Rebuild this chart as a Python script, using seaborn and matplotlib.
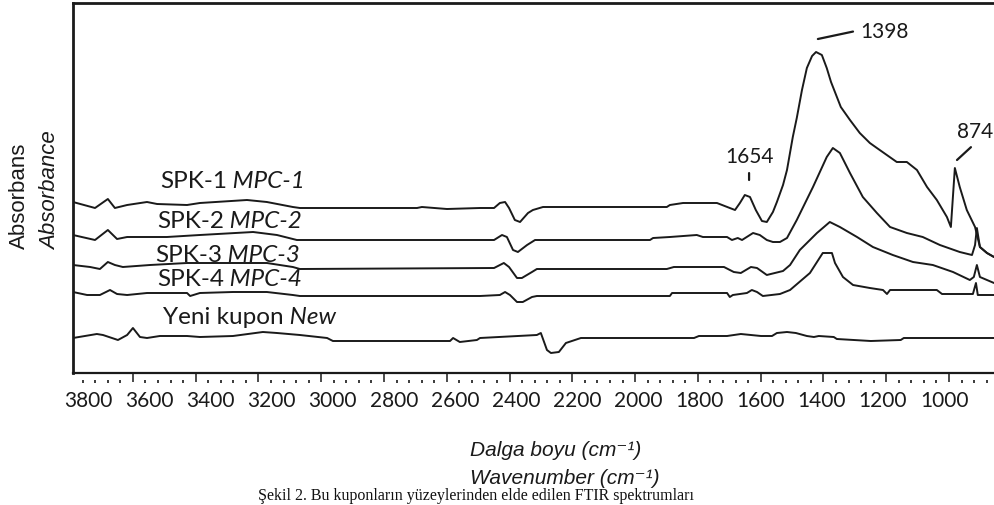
import numpy as np
import matplotlib
matplotlib.use("Agg")
import matplotlib.pyplot as plt
import seaborn as sns

# ---------------- data (wavenumber cm-1, absorbance a.u.) ----------------
spk1_wn = [3849, 3777, 3735, 3712, 3672, 3607, 3574, 3476, 3434, 3280, 3215, 3130, 3107,
           2724, 2708, 2626, 2518, 2472, 2453, 2436, 2423, 2404, 2387, 2361, 2345, 2312,
           1907, 1897, 1854, 1743, 1701, 1684, 1668, 1652, 1635, 1616, 1596, 1580, 1560,
           1547, 1527, 1514, 1495, 1482, 1465, 1449, 1432, 1419, 1400, 1384, 1370, 1338,
           1308, 1276, 1243, 1220, 1155, 1122, 1089, 1056, 1024, 991, 978, 965, 949, 926,
           899, 883, 860, 837]
spk1_ab = [1.71, 1.65, 1.74, 1.65, 1.68, 1.71, 1.69, 1.68, 1.70, 1.73, 1.71, 1.66, 1.65,
           1.65, 1.66, 1.64, 1.65, 1.65, 1.70, 1.71, 1.65, 1.53, 1.51, 1.60, 1.63, 1.66,
           1.66, 1.68, 1.70, 1.70, 1.65, 1.63, 1.70, 1.78, 1.76, 1.63, 1.52, 1.51, 1.61,
           1.71, 1.88, 2.03, 2.36, 2.55, 2.83, 3.05, 3.17, 3.21, 3.18, 3.05, 2.91, 2.66,
           2.53, 2.40, 2.30, 2.25, 2.11, 2.11, 2.03, 1.86, 1.73, 1.56, 1.46, 2.05, 1.86, 1.63,
           1.46, 1.26, 1.20, 1.16]

spk2_wn = [3849, 3777, 3735, 3705, 3672, 3542, 3434, 3260, 3182, 3117, 2518, 2472, 2446,
           2430, 2410, 2394, 2364, 2338, 1962, 1952, 1897, 1809, 1789, 1710, 1694, 1675,
           1661, 1625, 1603, 1580, 1560, 1537, 1514, 1482, 1429, 1384, 1364, 1341, 1308,
           1266, 1220, 1177, 1122, 1070, 1014, 949, 909, 899, 893, 883, 860, 837]
spk2_ab = [1.38, 1.33, 1.43, 1.34, 1.36, 1.36, 1.38, 1.41, 1.38, 1.33, 1.33, 1.33, 1.38,
           1.36, 1.23, 1.21, 1.28, 1.33, 1.33, 1.35, 1.36, 1.38, 1.36, 1.36, 1.33, 1.35,
           1.33, 1.40, 1.38, 1.33, 1.31, 1.31, 1.35, 1.53, 1.86, 2.16, 2.25, 2.20, 2.00,
           1.76, 1.60, 1.46, 1.40, 1.36, 1.28, 1.21, 1.18, 1.28, 1.45, 1.26, 1.20, 1.16]

spk3_wn = [3849, 3793, 3761, 3735, 3712, 3686, 3597, 3476, 3326, 3215, 3130, 3107, 2472,
           2440, 2423, 2397, 2381, 2348, 2332, 1907, 1884, 1720, 1688, 1665, 1632, 1612,
           1580, 1567, 1527, 1504, 1472, 1416, 1374, 1341, 1285, 1233, 1168, 1102, 1037,
           971, 916, 903, 893, 883, 837]
spk3_ab = [1.08, 1.06, 1.04, 1.11, 1.08, 1.06, 1.08, 1.10, 1.10, 1.10, 1.06, 1.04, 1.05,
           1.10, 1.06, 0.95, 0.95, 1.01, 1.04, 1.04, 1.06, 1.06, 1.01, 1.00, 1.06, 1.05,
           0.98, 0.99, 1.02, 1.08, 1.23, 1.40, 1.51, 1.46, 1.36, 1.26, 1.18, 1.11, 1.08,
           1.01, 0.93, 0.96, 1.08, 0.96, 0.90]

spk4_wn = [3849, 3803, 3761, 3728, 3705, 3672, 3607, 3476, 3466, 3434, 3326, 3215, 3130,
           3107, 2518, 2453, 2436, 2420, 2397, 2378, 2348, 2332, 1897, 1890, 1710, 1701,
           1691, 1645, 1629, 1612, 1593, 1537, 1504, 1439, 1397, 1367, 1357, 1331, 1298,
           1243, 1200, 1187, 1177, 1024, 1007, 906, 896, 890, 837]
spk4_ab = [0.81, 0.78, 0.78, 0.83, 0.79, 0.78, 0.80, 0.80, 0.77, 0.80, 0.81, 0.81, 0.78,
           0.77, 0.77, 0.78, 0.81, 0.78, 0.71, 0.71, 0.76, 0.77, 0.77, 0.80, 0.80, 0.76,
           0.78, 0.80, 0.83, 0.81, 0.77, 0.79, 0.83, 1.00, 1.20, 1.20, 1.10, 0.96, 0.88,
           0.85, 0.83, 0.79, 0.83, 0.83, 0.79, 0.79, 0.90, 0.78, 0.78]

new_wn = [3849, 3771, 3751, 3702, 3672, 3653, 3630, 3607, 3565, 3476, 3434, 3326, 3228,
          3182, 3107, 3018, 2999, 2616, 2606, 2584, 2528, 2518, 2332, 2319, 2299, 2286,
          2260, 2237, 2188, 1818, 1802, 1710, 1665, 1599, 1563, 1547, 1514, 1485, 1449,
          1426, 1410, 1361, 1351, 1240, 1142, 1132, 837]
new_ab = [0.35, 0.39, 0.38, 0.33, 0.38, 0.45, 0.36, 0.35, 0.37, 0.37, 0.36, 0.37, 0.41,
          0.40, 0.38, 0.35, 0.32, 0.32, 0.35, 0.31, 0.33, 0.35, 0.38, 0.40, 0.23, 0.20,
          0.21, 0.30, 0.35, 0.35, 0.37, 0.37, 0.39, 0.37, 0.37, 0.40, 0.41, 0.40, 0.37,
          0.36, 0.37, 0.36, 0.34, 0.32, 0.33, 0.35, 0.35]

series_plain = ["SPK-1", "SPK-2", "SPK-3", "SPK-4", "Yeni kupon"]
series_italic = ["MPC-1", "MPC-2", "MPC-3", "MPC-4", "New"]
label_wn = [3565, 3574, 3581, 3574, 3555]
label_ab = [1.91, 1.51, 1.18, 0.93, 0.55]

tick_values = [3800, 3600, 3400, 3200, 3000, 2800, 2600, 2400, 2200, 2000, 1800, 1600, 1400, 1200, 1000]
tick_labels = [str(v) for v in tick_values]

peak_labels = ["1654", "1398", "874"]

# ---------------- figure ----------------
sns.set_style("white")
plt.rcParams["font.family"] = ["Lato", "DejaVu Sans"]
ink = "#1a1a1a"

fig = plt.figure(figsize=(9.94, 5.05), dpi=100)
W, H = 994, 505
ax = fig.add_axes([73 / W, 1 - 373 / H, 1 - 73 / W, 370 / H])

for wn, ab in [(spk1_wn, spk1_ab), (spk2_wn, spk2_ab), (spk3_wn, spk3_ab),
               (spk4_wn, spk4_ab), (new_wn, new_ab)]:
    sns.lineplot(x=wn, y=ab, ax=ax, color=ink, linewidth=1.4, sort=False,
                 estimator=None, legend=False)

ax.set_xlim(3849, 837)
ax.set_ylim(0, 3.70)
ax.set_yticks([])
ax.set_xlabel("")
ax.set_ylabel("")
ax.set_xticks(tick_values)
ax.set_xticklabels(tick_labels)
ax.tick_params(axis="x", bottom=True, length=0, pad=13, labelsize=15, labelcolor=ink)

for side, lw in [("top", 2.0), ("left", 2.0), ("bottom", 1.6)]:
    ax.spines[side].set_linewidth(lw)
    ax.spines[side].set_color(ink)
ax.spines["right"].set_visible(False)

# tick marks (major marks and detached minor dots)
major_marks = np.arange(3653, 900, -205.3)
minor_marks = np.array([m - j * 41.06 for m in np.append(major_marks, major_marks[0] + 205.3)
                        for j in range(1, 5)])
minor_marks = minor_marks[(minor_marks < 3849) & (minor_marks > 837)]

sec = ax.secondary_xaxis("bottom")
sec.set_xticks(major_marks)
sec.tick_params(axis="x", bottom=True, labelbottom=False, length=6.5, width=1.1,
                direction="out", color=ink)
sec.spines["bottom"].set_visible(False)

sec2 = ax.secondary_xaxis(-0.018)
sec2.set_xticks(minor_marks)
sec2.tick_params(axis="x", bottom=True, labelbottom=False, length=2.3, width=1.2,
                 direction="out", color=ink)
sec2.spines["bottom"].set_visible(False)

# series labels
for p, it, x, y in zip(series_plain, series_italic, label_wn, label_ab):
    t = ax.text(x, y, p, fontsize=17.5, color=ink, ha="left", va="center")
    ax.annotate(" " + it, xy=(1, 0), xycoords=t, ha="left", va="bottom",
                fontsize=17.5, style="italic", color=ink)

# peak annotations
ax.annotate(peak_labels[0], xy=(1638, 1.93), xytext=(1638, 2.16), ha="center", va="center",
            fontsize=15, color=ink,
            arrowprops=dict(arrowstyle="-", color=ink, lw=1.6, shrinkA=2, shrinkB=0))
ax.annotate(peak_labels[1], xy=(1413, 3.34), xytext=(1274, 3.41), ha="left", va="center",
            fontsize=15, color=ink,
            arrowprops=dict(arrowstyle="-", color=ink, lw=1.6, shrinkA=3, shrinkB=0,
                            relpos=(0, 0.6)))
ax.annotate(peak_labels[2], xy=(958, 2.13), xytext=(900, 2.41), ha="center", va="center",
            fontsize=15, color=ink,
            arrowprops=dict(arrowstyle="-", color=ink, lw=1.6, shrinkA=2, shrinkB=0,
                            relpos=(0.55, 0)))

# axis titles
sansfam = ["Liberation Sans", "DejaVu Sans"]
fig.text(19 / W, 1 - 196 / H, "Absorbans", rotation=90, ha="center", va="center",
         fontsize=16, color=ink, family=sansfam)
fig.text(51 / W, 1 - 191 / H, "Absorbance", rotation=90, ha="center", va="center",
         fontsize=16, style="italic", color=ink, family=sansfam)
fig.text(470 / W, 1 - 451 / H, "Dalga boyu (cm\u207b\u00b9)", ha="left", va="center",
         fontsize=15, style="italic", color=ink, family=sansfam)
fig.text(470 / W, 1 - 478 / H, "Wavenumber (cm\u207b\u00b9)", ha="left", va="center",
         fontsize=15, style="italic", color=ink, family=sansfam)

# caption at the bottom (kept fully inside the figure)
fig.text(258 / W, 1 - 504 / H, "Şekil 2. Bu kuponların yüzeylerinden elde edilen FTIR spektrumları",
         ha="left", va="bottom", fontsize=11.5, color="#111111",
         family=["Liberation Serif", "DejaVu Serif"])

fig.savefig("out.png", dpi=100)
